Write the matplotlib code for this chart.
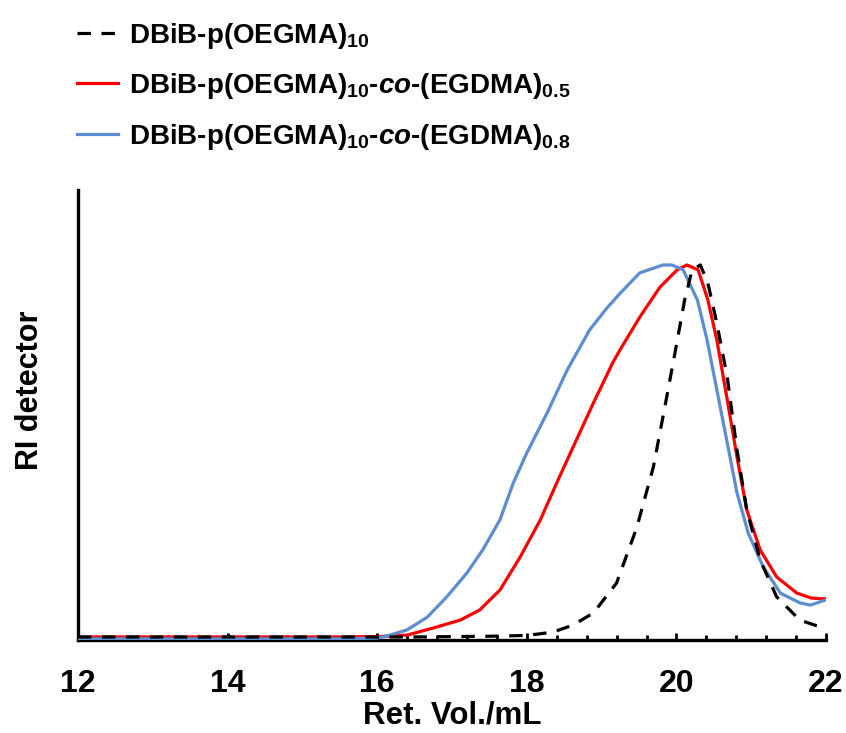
import numpy as np
import matplotlib
matplotlib.use("Agg")
import matplotlib.pyplot as plt
from matplotlib.ticker import MultipleLocator

plt.rcParams['font.family'] = ['Liberation Sans', 'DejaVu Sans']
plt.rcParams['font.weight'] = 'bold'
plt.rcParams['mathtext.fontset'] = 'custom'
plt.rcParams['mathtext.rm'] = 'Liberation Sans:bold'
plt.rcParams['mathtext.it'] = 'Liberation Sans:italic:bold'
plt.rcParams['mathtext.bf'] = 'Liberation Sans:bold'

# DATA (peak-normalised RI signal) ##################################################
x_homo = [12, 13, 14, 15, 16, 16.5, 17, 17.5, 18, 18.35, 18.62, 18.89, 19.2, 19.47,
          19.69, 19.82, 19.98, 20.11, 20.21, 20.32, 20.42, 20.54, 20.68, 20.81, 20.94,
          21.12, 21.34, 21.65, 21.92, 22.0]
y_homo = [0.008, 0.008, 0.008, 0.008, 0.008, 0.008, 0.009, 0.010, 0.012, 0.021, 0.040,
          0.072, 0.152, 0.30, 0.46, 0.595, 0.765, 0.907, 0.987, 1.0, 0.952, 0.845, 0.70,
          0.507, 0.347, 0.213, 0.115, 0.053, 0.035, 0.033]

x_05 = [12, 13, 14, 15, 15.5, 16, 16.4, 16.75, 17.11, 17.37, 17.64, 17.91, 18.18, 18.40,
        18.62, 18.89, 19.15, 19.25, 19.51, 19.78, 20.01, 20.14, 20.29, 20.42, 20.54,
        20.68, 20.81, 20.94, 21.12, 21.34, 21.61, 21.8, 21.92, 22.0]
y_05 = [0.008, 0.008, 0.008, 0.008, 0.008, 0.009, 0.013, 0.032, 0.053, 0.08, 0.133,
        0.221, 0.32, 0.419, 0.515, 0.632, 0.74, 0.775, 0.861, 0.941, 0.987, 1.0, 0.987,
        0.907, 0.80, 0.64, 0.488, 0.347, 0.24, 0.168, 0.125, 0.112, 0.11, 0.11]

x_08 = [12, 13, 14, 15, 15.5, 16, 16.17, 16.40, 16.67, 16.93, 17.20, 17.41, 17.64, 17.82,
        18.00, 18.27, 18.54, 18.84, 19.07, 19.25, 19.51, 19.82, 19.94, 20.09, 20.28,
        20.41, 20.54, 20.68, 20.81, 20.96, 21.16, 21.39, 21.65, 21.79, 22.0]
y_08 = [0.003, 0.003, 0.003, 0.003, 0.003, 0.005, 0.013, 0.027, 0.061, 0.115, 0.179,
        0.24, 0.32, 0.419, 0.499, 0.605, 0.72, 0.827, 0.885, 0.925, 0.979, 1.0, 1.0,
        0.987, 0.907, 0.80, 0.667, 0.525, 0.392, 0.285, 0.195, 0.125, 0.099, 0.093, 0.107]

labels = [r'DBiB-p(OEGMA)$_{10}$',
          r'DBiB-p(OEGMA)$_{10}$-$\mathit{co}$-(EGDMA)$_{0.5}$',
          r'DBiB-p(OEGMA)$_{10}$-$\mathit{co}$-(EGDMA)$_{0.8}$']

# FIGURE ###############################################################################
fig = plt.figure(figsize=(8.46, 7.33), dpi=100)
ax = fig.add_axes([0.0922, 0.1269, 0.8842, 0.6139])

l1, = ax.plot(x_homo, y_homo, color='black', lw=2.3, linestyle=(0, (4.2, 3.3)), zorder=4)
l2, = ax.plot(x_05, y_05, color='#FF0000', lw=2.3, zorder=2)
l3, = ax.plot(x_08, y_08, color='#5B8DD0', lw=2.3, zorder=3)

ax.set_xlim(12, 22)
ax.set_ylim(0, 1.2)
ax.spines['top'].set_visible(False)
ax.spines['right'].set_visible(False)
ax.spines['left'].set_linewidth(2.4)
ax.spines['bottom'].set_linewidth(2.4)
ax.xaxis.set_major_locator(MultipleLocator(2))
ax.xaxis.set_minor_locator(MultipleLocator(0.4))
ax.tick_params(axis='x', which='major', direction='in', length=5, width=2,
               labelsize=23, pad=21)
ax.tick_params(axis='x', which='minor', direction='in', length=3.5, width=2)
ax.tick_params(axis='y', left=False, labelleft=False)
for t in ax.get_xticklabels():
    t.set_fontweight('bold')
ax.set_xlabel('Ret. Vol./mL', fontsize=22.5, fontweight='bold', labelpad=1)
fig.text(0.036, 0.468, 'RI detector', rotation=90, fontsize=22, fontweight='bold',
         ha='center', va='center')

fig.legend([l1, l2, l3], labels, loc='upper left', bbox_to_anchor=(0.0915, 0.972),
           frameon=False, fontsize=20, handlelength=1.45, handletextpad=0.4,
           labelspacing=0.74, borderpad=0, borderaxespad=0)

fig.savefig('out.png', dpi=100)
